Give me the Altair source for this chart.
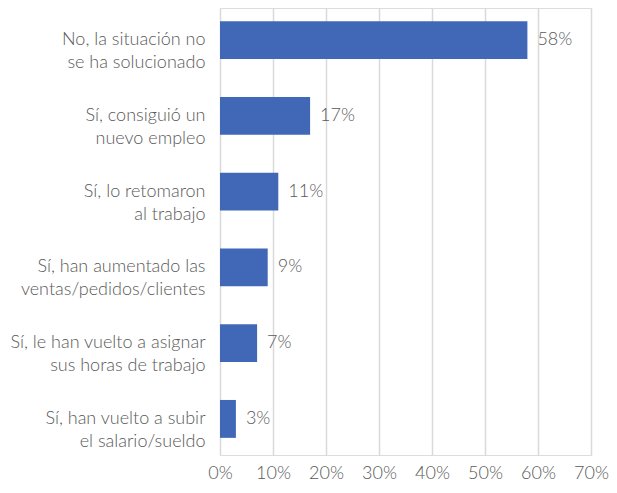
import altair as alt
import pandas as pd

categories = [
    "No, la situación no\nse ha solucionado",
    "Sí, consiguió un\nnuevo empleo",
    "Sí, lo retomaron\nal trabajo",
    "Sí, han aumentado las\nventas/pedidos/clientes",
    "Sí, le han vuelto a asignar\nsus horas de trabajo",
    "Sí, han vuelto a subir\nel salario/sueldo",
]
values = [58, 17, 11, 9, 7, 3]
tick_values = [0, 0.1, 0.2, 0.3, 0.4, 0.5, 0.6, 0.7]

df = pd.DataFrame({"cat": categories, "val": [v / 100 for v in values],
                   "lbl": [f"{v}%" for v in values]})

FONT = "Lato"
GRAY = "#595959"
FS = 18

y_enc = alt.Y("cat:N", sort=categories, title=None,
              scale=alt.Scale(paddingInner=0.5, paddingOuter=0.2),
              axis=alt.Axis(labelExpr="split(datum.label, '\\n')", labelFont=FONT,
                            labelFontSize=FS, labelFontWeight=300, labelColor=GRAY,
                            labelLineHeight=23, labelPadding=15, ticks=False,
                            domain=False, labelOffset=-2, labelLimit=300))
x_enc = alt.X("val:Q", title=None,
              scale=alt.Scale(domain=[0, 0.7], nice=False),
              axis=alt.Axis(format="0%", values=tick_values, labelFlush=False,
                            labelFont=FONT, labelFontSize=FS, labelFontWeight=300,
                            labelColor=GRAY, labelPadding=9, ticks=False, domain=False,
                            grid=True, gridColor="#d9d9d9", gridWidth=1.5))

bars = alt.Chart(df).mark_bar(color="#4068B6", yOffset=-2).encode(x=x_enc, y=y_enc)
text = alt.Chart(df).mark_text(align="left", baseline="middle", dx=10, dy=-2,
                               font=FONT, fontSize=FS, fontWeight=300, color=GRAY).encode(
    x="val:Q", y=alt.Y("cat:N", sort=categories), text="lbl:N")

chart = (bars + text).properties(
    width=371, height=447,
    autosize=alt.AutoSizeParams(type="none"),
    padding={"left": 212, "top": 0, "right": 18, "bottom": 30},
).configure_view(stroke=None).configure(background="white")

chart.save("out.html", embed_options={"renderer": "svg", "actions": False})
